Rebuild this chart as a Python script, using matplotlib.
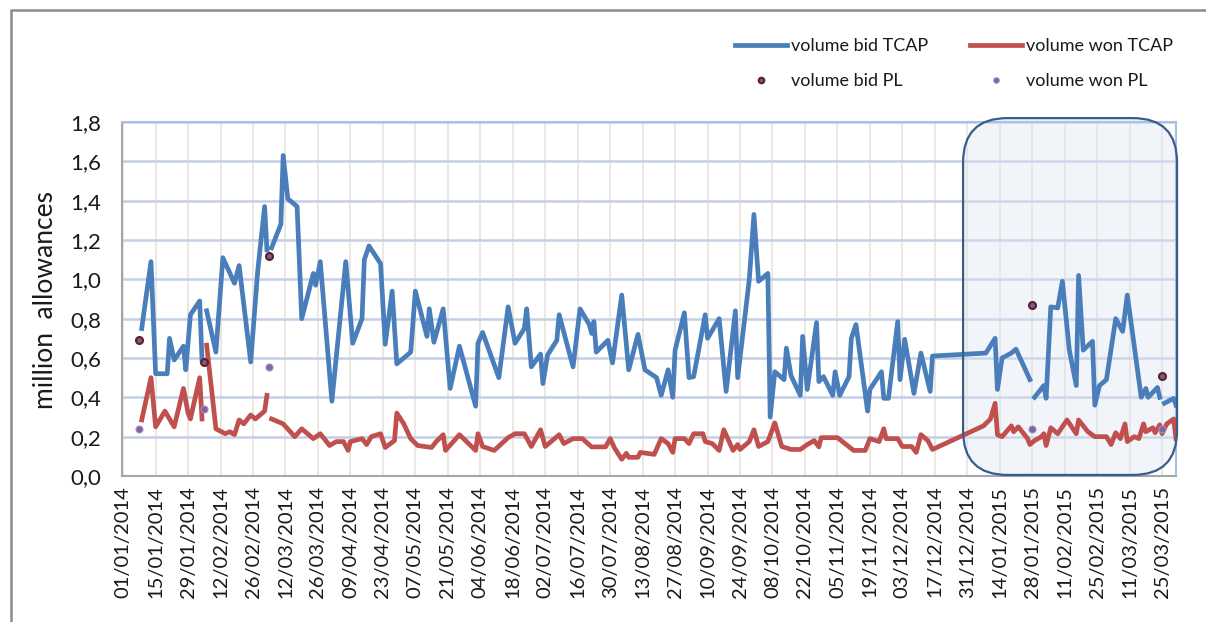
import numpy as np
import pandas as pd
import matplotlib
matplotlib.use("Agg")
import matplotlib.pyplot as plt
from matplotlib.patches import FancyBboxPatch, Rectangle

plt.rcParams['font.family'] = ['Lato', 'DejaVu Sans']

# TCAP auctions (million allowances); None = PL auction day, no TCAP value
bid_tcap_dates = [
    '2014-01-09', '2014-01-13', '2014-01-15', '2014-01-20', '2014-01-21', '2014-01-23', '2014-01-27', '2014-01-28', '2014-01-30',
    '2014-02-03', '2014-02-04', '2014-02-05', '2014-02-06', '2014-02-10', '2014-02-13', '2014-02-18', '2014-02-20', '2014-02-25', '2014-02-28',
    '2014-03-03', '2014-03-04', '2014-03-05', '2014-03-06', '2014-03-10', '2014-03-11', '2014-03-13', '2014-03-17', '2014-03-19', '2014-03-24', '2014-03-25', '2014-03-27',
    '2014-04-01', '2014-04-07', '2014-04-10', '2014-04-14', '2014-04-15', '2014-04-17', '2014-04-22', '2014-04-24', '2014-04-27', '2014-04-29',
    '2014-05-05', '2014-05-07', '2014-05-12', '2014-05-13', '2014-05-15', '2014-05-19', '2014-05-22', '2014-05-26',
    '2014-06-02', '2014-06-03', '2014-06-05', '2014-06-12', '2014-06-16', '2014-06-19', '2014-06-23', '2014-06-24', '2014-06-26', '2014-06-30',
    '2014-07-01', '2014-07-03', '2014-07-07', '2014-07-08', '2014-07-14', '2014-07-17', '2014-07-21', '2014-07-22', '2014-07-23', '2014-07-24', '2014-07-29', '2014-07-31',
    '2014-08-04', '2014-08-07', '2014-08-11', '2014-08-14', '2014-08-19', '2014-08-21', '2014-08-24', '2014-08-26', '2014-08-27', '2014-08-31',
    '2014-09-02', '2014-09-04', '2014-09-09', '2014-09-10', '2014-09-15', '2014-09-18', '2014-09-22', '2014-09-23', '2014-09-28', '2014-09-30',
    '2014-10-02', '2014-10-06', '2014-10-07', '2014-10-09', '2014-10-13', '2014-10-14', '2014-10-16', '2014-10-20', '2014-10-21', '2014-10-23', '2014-10-27', '2014-10-28', '2014-10-30',
    '2014-11-03', '2014-11-04', '2014-11-06', '2014-11-10', '2014-11-11', '2014-11-13', '2014-11-18', '2014-11-19', '2014-11-24', '2014-11-25', '2014-11-27',
    '2014-12-01', '2014-12-02', '2014-12-04', '2014-12-08', '2014-12-11', '2014-12-15', '2014-12-16',
    '2015-01-08', '2015-01-12', '2015-01-13', '2015-01-15', '2015-01-19', '2015-01-21', '2015-01-27', '2015-01-28', '2015-01-29',
    '2015-02-02', '2015-02-03', '2015-02-05', '2015-02-08', '2015-02-10', '2015-02-13', '2015-02-16', '2015-02-17', '2015-02-19', '2015-02-23', '2015-02-24', '2015-02-26',
    '2015-03-01', '2015-03-05', '2015-03-08', '2015-03-10', '2015-03-16', '2015-03-18', '2015-03-19', '2015-03-23', '2015-03-24', '2015-03-25', '2015-03-26', '2015-03-30', '2015-03-31',
]
bid_tcap = [
    0.75, 1.09, 0.52, 0.52, 0.70, 0.59, 0.66, 0.54, 0.82,
    0.89, 0.59, None, 0.84, 0.63, 1.11, 0.98, 1.07, 0.58, 1.04,
    1.37, 1.15, None, 1.16, 1.28, 1.63, 1.41, 1.37, 0.80, 1.03, 0.97, 1.09,
    0.38, 1.09, 0.675, 0.80, 1.10, 1.17, 1.08, 0.67, 0.94, 0.57,
    0.63, 0.94, 0.71, 0.85, 0.68, 0.85, 0.445, 0.66,
    0.355, 0.675, 0.73, 0.50, 0.86, 0.675, 0.75, 0.85, 0.555, 0.62,
    0.47, 0.615, 0.69, 0.82, 0.555, 0.85, 0.77, 0.725, 0.785, 0.63, 0.69, 0.575,
    0.92, 0.54, 0.72, 0.54, 0.50, 0.41, 0.54, 0.40, 0.64, 0.83,
    0.50, 0.505, 0.82, 0.70, 0.80, 0.43, 0.84, 0.50, 1.00, 1.33,
    0.99, 1.03, 0.30, 0.53, 0.49, 0.65, 0.51, 0.41, 0.71, 0.44, 0.78, 0.48, 0.505,
    0.41, 0.53, 0.41, 0.505, 0.70, 0.77, 0.33, 0.44, 0.53, 0.395, 0.395,
    0.785, 0.49, 0.695, 0.42, 0.625, 0.43, 0.61,
    0.625, 0.70, 0.44, 0.60, 0.625, 0.645, 0.49, None, 0.40,
    0.46, 0.395, 0.86, 0.855, 0.99, 0.64, 0.46, 1.02, 0.64, 0.685, 0.36, 0.46,
    0.49, 0.80, 0.735, 0.92, 0.40, 0.445, 0.40, 0.45, 0.40, None, 0.37, 0.395, 0.36,
]

won_tcap_dates = [
    '2014-01-09', '2014-01-13', '2014-01-15', '2014-01-19', '2014-01-23', '2014-01-27', '2014-01-29', '2014-01-30',
    '2014-02-03', '2014-02-04', '2014-02-05', '2014-02-06', '2014-02-10', '2014-02-14', '2014-02-16', '2014-02-18', '2014-02-20', '2014-02-22', '2014-02-25', '2014-02-27',
    '2014-03-01', '2014-03-03', '2014-03-04', '2014-03-05', '2014-03-06', '2014-03-11', '2014-03-16', '2014-03-19', '2014-03-24', '2014-03-27', '2014-03-31',
    '2014-04-03', '2014-04-06', '2014-04-08', '2014-04-09', '2014-04-14', '2014-04-16', '2014-04-18', '2014-04-22', '2014-04-24', '2014-04-28', '2014-04-29',
    '2014-05-02', '2014-05-05', '2014-05-08', '2014-05-14', '2014-05-16', '2014-05-19', '2014-05-20', '2014-05-26',
    '2014-06-02', '2014-06-03', '2014-06-05', '2014-06-10', '2014-06-16', '2014-06-19', '2014-06-23', '2014-06-26', '2014-06-30',
    '2014-07-02', '2014-07-08', '2014-07-10', '2014-07-14', '2014-07-18', '2014-07-22', '2014-07-28', '2014-07-30',
    '2014-08-01', '2014-08-04', '2014-08-06', '2014-08-07', '2014-08-11', '2014-08-12', '2014-08-18', '2014-08-21', '2014-08-24', '2014-08-26', '2014-08-27', '2014-08-31',
    '2014-09-02', '2014-09-04', '2014-09-08', '2014-09-09', '2014-09-12', '2014-09-15', '2014-09-17', '2014-09-21', '2014-09-23', '2014-09-24', '2014-09-28', '2014-09-30',
    '2014-10-02', '2014-10-06', '2014-10-09', '2014-10-12', '2014-10-16', '2014-10-20', '2014-10-23', '2014-10-26', '2014-10-28', '2014-10-29',
    '2014-11-05', '2014-11-12', '2014-11-17', '2014-11-19', '2014-11-23', '2014-11-25', '2014-11-26',
    '2014-12-01', '2014-12-03', '2014-12-07', '2014-12-09', '2014-12-11', '2014-12-14', '2014-12-16',
    '2015-01-07', '2015-01-10', '2015-01-12', '2015-01-13', '2015-01-15', '2015-01-19', '2015-01-20', '2015-01-22', '2015-01-26', '2015-01-27', '2015-01-29',
    '2015-02-01', '2015-02-02', '2015-02-03', '2015-02-05', '2015-02-08', '2015-02-12', '2015-02-14', '2015-02-16', '2015-02-17', '2015-02-21', '2015-02-24',
    '2015-03-01', '2015-03-03', '2015-03-05', '2015-03-07', '2015-03-09', '2015-03-10', '2015-03-13', '2015-03-15', '2015-03-17', '2015-03-18', '2015-03-21', '2015-03-22', '2015-03-24', '2015-03-25', '2015-03-27', '2015-03-30', '2015-03-31',
]
won_tcap = [
    0.285, 0.50, 0.25, 0.33, 0.25, 0.445, 0.32, 0.29,
    0.50, 0.29, None, 0.665, 0.24, 0.215, 0.225, 0.21, 0.285, 0.265, 0.31, 0.29,
    0.31, 0.33, 0.41, None, 0.29, 0.265, 0.20, 0.24, 0.19, 0.215, 0.155,
    0.175, 0.175, 0.13, 0.175, 0.19, 0.16, 0.20, 0.215, 0.145, 0.18, 0.32,
    0.265, 0.19, 0.155, 0.145, 0.175, 0.21, 0.13, 0.21,
    0.13, 0.215, 0.15, 0.13, 0.195, 0.215, 0.215, 0.15, 0.235,
    0.15, 0.21, 0.165, 0.19, 0.19, 0.148, 0.148, 0.19,
    0.14, 0.085, 0.115, 0.095, 0.095, 0.12, 0.11, 0.19, 0.165, 0.12, 0.19, 0.19,
    0.165, 0.215, 0.215, 0.175, 0.165, 0.13, 0.235, 0.13, 0.16, 0.135, 0.175, 0.235,
    0.15, 0.175, 0.27, 0.15, 0.135, 0.135, 0.16, 0.18, 0.148, 0.195,
    0.195, 0.13, 0.13, 0.19, 0.175, 0.24, 0.19,
    0.19, 0.15, 0.15, 0.12, 0.21, 0.18, 0.135,
    0.255, 0.29, 0.37, 0.21, 0.20, 0.255, 0.225, 0.25, 0.19, 0.16, 0.18,
    0.20, 0.215, 0.155, 0.245, 0.215, 0.285, 0.25, 0.215, 0.285, 0.225, 0.20,
    0.20, 0.16, 0.22, 0.19, 0.265, 0.175, 0.20, 0.19, 0.265, 0.225, 0.245, 0.22, 0.26, 0.215, 0.265, 0.29, 0.19,
]

# Polish auctions
pl_dates = ['2014-01-08', '2014-02-05', '2014-03-05', '2015-01-28', '2015-03-25']
bid_pl = [0.69, 0.58, 1.12, 0.87, 0.51]
won_pl = [0.24, 0.34, 0.555, 0.24, 0.24]

y_ticks = [0.0, 0.2, 0.4, 0.6, 0.8, 1.0, 1.2, 1.4, 1.6, 1.8]

blue = '#4a7ebb'
red = '#c0504d'

fig = plt.figure(figsize=(12.06, 6.22), dpi=100)
ax = fig.add_axes([122 / 1206, 1 - 476 / 622, 1054 / 1206, 354 / 622])

bx = pd.to_datetime(bid_tcap_dates)
by = np.array([np.nan if v is None else v for v in bid_tcap])
rx = pd.to_datetime(won_tcap_dates)
ry = np.array([np.nan if v is None else v for v in won_tcap])
px = pd.to_datetime(pl_dates)

ax.plot(bx, by, color=blue, lw=3.4, zorder=4, label='volume bid TCAP')
ax.plot(rx, ry, color=red, lw=3.4, zorder=4, label='volume won TCAP')
ax.plot(px, bid_pl, ls='none', marker='o', ms=5, mfc='#7a5a9a', mec='#5e1f1f', mew=1.5,
        zorder=5, label='volume bid PL')
ax.plot(px, won_pl, ls='none', marker='o', ms=5, mfc='#8064a2', mec='#a48cc4', mew=0.8,
        zorder=5, label='volume won PL')

ax.set_ylim(0, 1.8)
ax.set_xlim(pd.Timestamp('2013-12-31 12:00'), pd.Timestamp('2015-03-31'))
ax.set_yticks(y_ticks)
ax.set_yticklabels([f"{v:.1f}".replace('.', ',') for v in y_ticks])
xt = pd.date_range('2014-01-01', '2015-03-25', freq='14D')
ax.set_xticks(xt)
ax.set_xticklabels([d.strftime('%d/%m/%Y') for d in xt], rotation=90, va='top', ha='center')

ax.grid(axis='y', color='#c3cfe6', lw=1.8, zorder=0)
ax.grid(axis='x', color='#ebe9df', lw=1.4, zorder=0)
ax.set_axisbelow(True)
ax.tick_params(axis='y', length=0, pad=15, labelsize=16, colors='#1a1a1a')
ax.tick_params(axis='x', length=0, pad=7, labelsize=14.5, colors='#1a1a1a')
for s in ['left', 'bottom']:
    ax.spines[s].set_color('#a6a6a6')
    ax.spines[s].set_linewidth(1.5)
for s in ['top', 'right']:
    ax.spines[s].set_color('#a9c0e8')
    ax.spines[s].set_linewidth(1.5)

# highlighted 2015 period
box = FancyBboxPatch((0.798, 0.003), 0.203, 1.008, transform=ax.transAxes,
                     boxstyle='round,pad=0,rounding_size=0.042', mutation_aspect=1054 / 354,
                     facecolor='#dce6f2', alpha=0.38, edgecolor='none', zorder=1, clip_on=False)
ax.add_patch(box)
box_edge = FancyBboxPatch((0.798, 0.003), 0.203, 1.008, transform=ax.transAxes,
                          boxstyle='round,pad=0,rounding_size=0.042', mutation_aspect=1054 / 354,
                          facecolor='none', edgecolor='#385d8a', lw=1.6, zorder=6, clip_on=False)
ax.add_patch(box_edge)

fig.text(46 / 1206, 1 - 300 / 622, 'million  allowances', rotation=90, ha='center', va='center',
         fontsize=19, color='#1a1a1a')

h = ax.get_legend_handles_labels()
order = [0, 2, 1, 3]
leg = fig.legend([h[0][i] for i in order], [h[1][i] for i in order], ncol=2,
                 loc='upper left', bbox_to_anchor=(735 / 1206, 1 - 38 / 622),
                 frameon=False, fontsize=13, handlelength=2.9, handletextpad=0.2,
                 columnspacing=2.3, labelspacing=1.05, borderpad=0, borderaxespad=0,
                 markerscale=0.8)
for t in leg.get_texts():
    t.set_color('#1a1a1a')

# outer chart frame
fig.add_artist(Rectangle((11 / 1206, -0.1), 1.2, 1.1 - 10 / 622, transform=fig.transFigure,
                         facecolor='none', edgecolor='#8c8c8c', lw=1.8))

fig.savefig('out.png', dpi=100)
